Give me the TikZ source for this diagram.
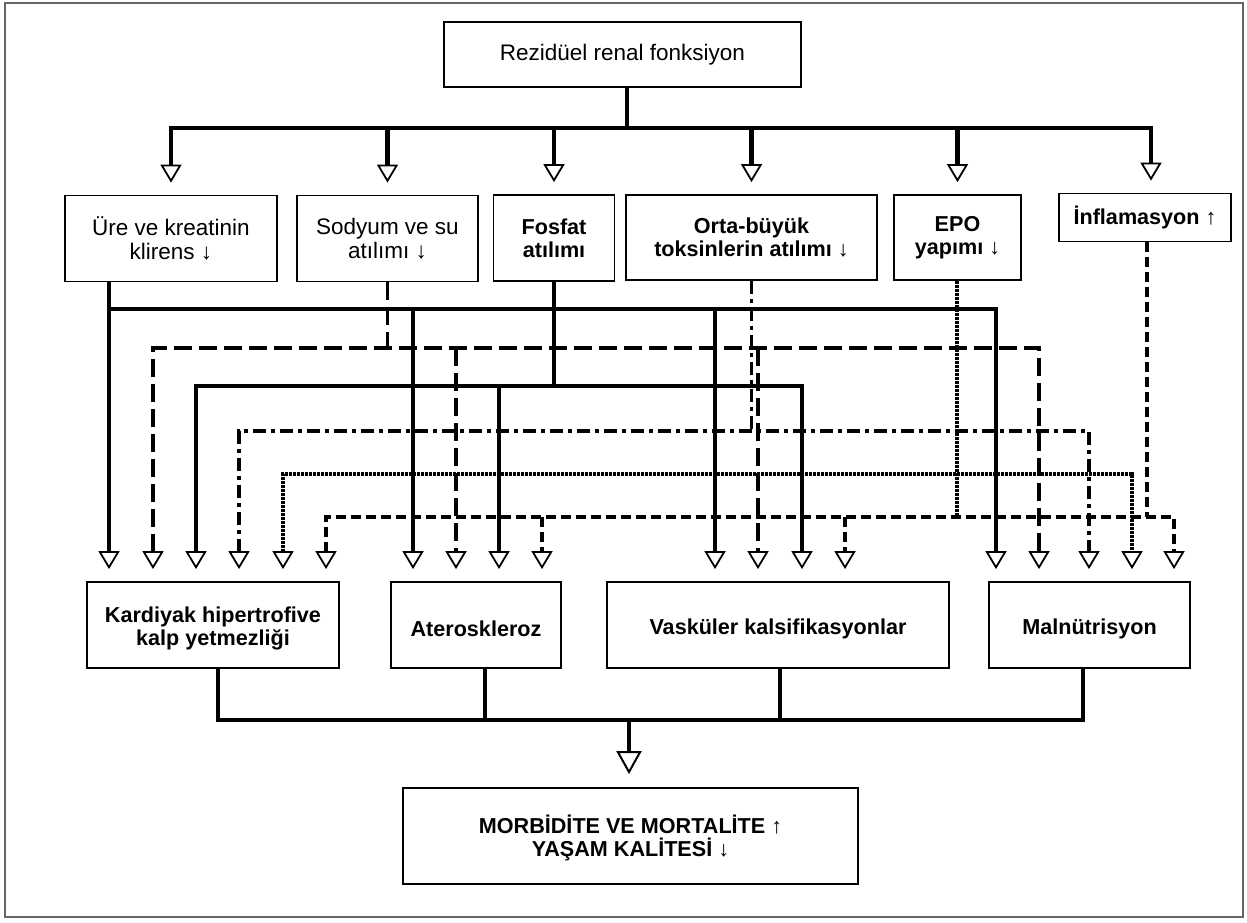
\documentclass[tikz,border=0pt]{standalone}
\usepackage{fontspec}
\setmainfont{Liberation Sans}
\usetikzlibrary{arrows.meta,calc}
\tikzset{
  tipsty/.tip={Triangle[length=18pt,width=21pt,fill=white,line width=1.8pt]},
  bigtip/.tip={Triangle[length=23pt,width=25pt,fill=white,line width=2pt]}
}
\newcommand{\lowr}{\rule{0pt}{23pt}}
\begin{document}
\begin{tikzpicture}[x=1pt,y=-1pt,
  box/.style={draw, line width=1.8pt, inner sep=0pt, align=center,
    font=\fontsize{22.5}{24}\selectfont},
  boldbox/.style={box, font=\fontsize{21.6}{23}\selectfont\bfseries},
  tipend/.style={-{tipsty}, shorten >=12pt},
  tipboth/.style={{tipsty}-{tipsty}, shorten >=12pt, shorten <=12pt},
  topline/.style={line width=4.8pt},
  busA/.style={line width=3.9pt},
  busB/.style={line width=3.9pt, dash pattern=on 18pt off 7pt},
  busC/.style={line width=4.6pt},
  busD/.style={line width=3.9pt, dash pattern=on 13pt off 5pt on 4pt off 5pt},
  busE/.style={line width=3.9pt, dash pattern=on 3pt off 1pt},
  busF/.style={line width=3.9pt, dash pattern=on 10pt off 5pt},
  botline/.style={line width=3.9pt},
  frame/.style={draw=black!60, line width=1.2pt}
]
\useasboundingbox (0,0) rectangle (1247,922);
\draw[frame] (5,3) rectangle (1243,917);

% ---------- nodes ----------
\node[box, minimum width=357pt, minimum height=65pt] (top) at (622.5,54.5) {Rezidüel renal fonksiyon};

\node[box, minimum width=212pt, minimum height=86pt] (ure) at (171,238.5) {Üre ve kreatinin\\klirens ↓};
\node[box, minimum width=181pt, minimum height=86pt] (sod) at (387.5,238.5) {Sodyum ve su\\atılımı ↓};
\node[boldbox, minimum width=121pt, minimum height=86pt] (fos) at (554,238) {Fosfat\\atılımı};
\node[boldbox, minimum width=251pt, minimum height=85pt] (orta) at (751.5,237.5) {Orta-büyük\\toksinlerin atılımı {\mdseries ↓}};
\node[boldbox, minimum width=127pt, minimum height=85pt] (epo) at (957.5,237.5) {EPO\\yapımı {\mdseries ↓}};
\node[boldbox, minimum width=172pt, minimum height=48pt] (inf) at (1145,217.5) {İnflamasyon {\mdseries ↑}};

\node[boldbox, minimum width=252pt, minimum height=86pt] (kard) at (213,625) {\lowr Kardiyak hipertrofive\\kalp yetmezliği};
\node[boldbox, minimum width=170pt, minimum height=86pt] (ater) at (476,625) {\lowr Ateroskleroz};
\node[boldbox, minimum width=342pt, minimum height=86pt] (vask) at (778,625) {\lowr Vasküler kalsifikasyonlar};
\node[boldbox, minimum width=201pt, minimum height=86pt] (maln) at (1089.5,625) {\lowr Malnütrisyon};

\node[boldbox, minimum width=455pt, minimum height=96pt] (bot) at (630.5,836) {\lowr MORBİDİTE VE MORTALİTE {\mdseries ↑}\\YAŞAM KALİTESİ {\mdseries ↓}};

% ---------- coordinates ----------
\coordinate (ytop) at (0,128);
\coordinate (yA) at (0,309);
\coordinate (yB) at (0,348);
\coordinate (yC) at (0,386);
\coordinate (yD) at (0,431);
\coordinate (yE) at (0,474);
\coordinate (yF) at (0,517);
\coordinate (ybot) at (0,720);
\coordinate (stem) at (627,0);
\coordinate (t6) at (1151,0);
\coordinate (k1) at (109,0);  \coordinate (k2) at (153,0);  \coordinate (k3) at (196,0);
\coordinate (k4) at (239,0);  \coordinate (k5) at (283,0);  \coordinate (k6) at (326,0);
\coordinate (a1) at (413,0);  \coordinate (a2) at (456,0);  \coordinate (a3) at (499,0);  \coordinate (a4) at (542,0);
\coordinate (v1) at (715,0);  \coordinate (v2) at (758,0);  \coordinate (v3) at (802,0);  \coordinate (v4) at (845,0);
\coordinate (m1) at (996,0);  \coordinate (m2) at (1039,0); \coordinate (m3) at (1089,0);
\coordinate (m4) at (1132,0); \coordinate (m5) at (1174,0);
\coordinate (sE) at (957,0);
\coordinate (sF) at (1147,0);
\coordinate (b1) at (218,0);  \coordinate (b2) at (485,0);  \coordinate (b3) at (780,0);  \coordinate (b4) at (1083,0);
\coordinate (bm) at (629,0);

% ---------- top fan-out ----------
\draw[topline] (top.south -| stem) -- (stem |- ytop);
\draw[topline, tipboth] (ure.north) |- (t6 |- ytop) -- (inf.north -| t6);
\foreach \n in {sod,fos,orta,epo}
  \draw[topline, tipend] (\n.north |- ytop) -- (\n.north);

% ---------- Üre (solid) ----------
\draw[busA, tipend] (ure.south -| k1) -- (kard.north -| k1);
\draw[busA, tipend] (k1 |- yA) -| (maln.north -| m1);
\draw[busA, tipend] (a1 |- yA) -- (ater.north -| a1);
\draw[busA, tipend] (v1 |- yA) -- (vask.north -| v1);

% ---------- Sodyum (dashed) ----------
\draw[busB] (sod.south) -- (sod.south |- yB);
\draw[busB, tipboth] (kard.north -| k2) |- (m2 |- yB) -- (maln.north -| m2);
\draw[busB, tipend] (a2 |- yB) -- (ater.north -| a2);
\draw[busB, tipend] (v2 |- yB) -- (vask.north -| v2);

% ---------- Fosfat (solid thick) ----------
\draw[busC] (fos.south) -- (fos.south |- yC);
\draw[busC, tipboth] (kard.north -| k3) |- (v3 |- yC) -- (vask.north -| v3);
\draw[busC, tipend] (a3 |- yC) -- (ater.north -| a3);

% ---------- Orta-büyük (dash-dot) ----------
\draw[busD] (orta.south) -- (orta.south |- yD);
\draw[busD, tipboth] (kard.north -| k4) |- (m3 |- yD) -- (maln.north -| m3);

% ---------- EPO (dotted) ----------
\draw[busE] (epo.south -| sE) -- (sE |- yF);
\draw[busE, tipboth] (kard.north -| k5) |- (m4 |- yE) -- (maln.north -| m4);

% ---------- İnflamasyon (dashed) ----------
\draw[busF] (inf.south -| sF) -- (sF |- yF);
\draw[busF, tipboth] (kard.north -| k6) |- (m5 |- yF) -- (maln.north -| m5);
\draw[busF, tipend] (a4 |- yF) -- (ater.north -| a4);
\draw[busF, tipend] (v4 |- yF) -- (vask.north -| v4);

% ---------- bottom collection ----------
\draw[botline] (kard.south -| b1) |- (b4 |- ybot) -- (maln.south -| b4);
\draw[botline] (ater.south -| b2) -- (b2 |- ybot);
\draw[botline] (vask.south -| b3) -- (b3 |- ybot);
\draw[line width=4.8pt, -{bigtip}, shorten >=13pt]
  (bm |- ybot) -- (bot.north -| bm);
\end{tikzpicture}
\end{document}
